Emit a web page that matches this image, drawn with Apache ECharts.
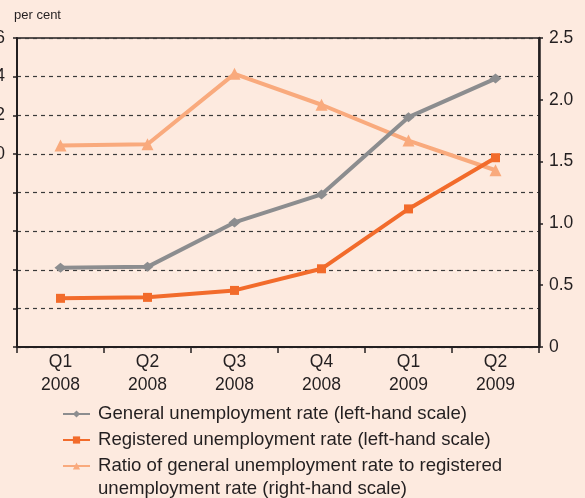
<!DOCTYPE html>
<html><head><meta charset="utf-8">
<script src="https://cdn.jsdelivr.net/npm/echarts@6/dist/echarts.min.js"></script>
<style>html,body{margin:0;padding:0;background:#fdeadf}#c{width:585px;height:498px}</style>
</head><body><div id="c"></div>
<script>
var categories = ['Q1\n2008','Q2\n2008','Q3\n2008','Q4\n2008','Q1\n2009','Q2\n2009'];
var generalRate = [4.1, 4.15, 6.45, 7.9, 11.9, 13.9];
var registeredRate = [2.52, 2.57, 2.93, 4.05, 7.15, 9.8];
var ratioRate = [1.63, 1.64, 2.21, 1.96, 1.67, 1.43];
var leftTicks = [0, 16, 2];
var rightTicks = [0, 2.5, 0.5];
var names = ['General unemployment rate (left-hand scale)','Registered unemployment rate (left-hand scale)','Ratio of general unemployment rate to registered'];
var nameLine2 = 'unemployment rate (right-hand scale)';

var ink = '#231f20';
var ff = 'Liberation Sans, Arial, sans-serif';
var chart = echarts.init(document.getElementById('c'));
chart.setOption({
  backgroundColor: '#fdeadf',
  animation: false,
  textStyle: {fontFamily: ff},
  grid: {left: 17, right: 46, top: 38, bottom: 151, containLabel: false, outerBoundsMode: 'none',
         show: true, borderColor: ink, borderWidth: 1.5, backgroundColor: 'transparent'},
  legend: {
    orient: 'vertical', left: 62, top: 403, itemGap: 4, itemWidth: 27, itemHeight: 9, padding: 0,
    data: names,
    textStyle: {fontSize: 18.6, lineHeight: 22, color: ink, fontFamily: ff, padding: [0,0,0,3]},
    selectedMode: false
  },
  graphic: [
    {type: 'text', left: 14, top: 9, style: {text: 'per cent', fontSize: 13, fill: ink, fontFamily: ff}},
    {type: 'text', left: 98, top: 479, style: {text: nameLine2, fontSize: 18.6, fill: ink, fontFamily: ff}}
  ],
  xAxis: {
    type: 'category', data: categories, boundaryGap: true,
    axisLine: {lineStyle: {color: ink, width: 2}},
    axisTick: {show: true, length: 6, lineStyle: {color: ink, width: 1.5}},
    axisLabel: {fontSize: 17.5, color: ink, lineHeight: 23.5, margin: 3}
  },
  yAxis: [
    {type: 'value', min: leftTicks[0], max: leftTicks[1], interval: leftTicks[2], position: 'left',
     axisLine: {show: true, lineStyle: {color: ink, width: 2}},
     axisTick: {show: true, length: 4, lineStyle: {color: ink, width: 1.5}},
     axisLabel: {fontSize: 17.5, color: ink, margin: 12, formatter: function(v){return v >= 10 ? String(v) : '';}},
     splitLine: {show: true, lineStyle: {color: '#3a3a3a', type: [4, 4], width: 1.2}}
    },
    {type: 'value', min: rightTicks[0], max: rightTicks[1], interval: rightTicks[2], position: 'right',
     axisLine: {show: true, lineStyle: {color: ink, width: 2.5}},
     axisTick: {show: true, inside: false, length: 4, lineStyle: {color: ink, width: 1.5}},
     axisLabel: {fontSize: 17.5, color: ink, margin: 10, formatter: function(v){return v === 0 ? '0' : v.toFixed(1);}},
     splitLine: {show: false}
    }
  ],
  series: [
    {name: names[0], type: 'line', data: generalRate, yAxisIndex: 0, z: 5,
     symbol: 'diamond', symbolSize: [12, 10], color: '#8c8d8f',
     lineStyle: {width: 4, color: '#8c8d8f'}, itemStyle: {color: '#8c8d8f'}},
    {name: names[1], type: 'line', data: registeredRate, yAxisIndex: 0, z: 4,
     symbol: 'rect', symbolSize: 9, color: '#f26b2b',
     lineStyle: {width: 4, color: '#f26b2b'}, itemStyle: {color: '#f26b2b'}},
    {name: names[2], type: 'line', data: ratioRate, yAxisIndex: 1, z: 3,
     symbol: 'triangle', symbolSize: 12, color: '#f9aa7d',
     lineStyle: {width: 4, color: '#f9aa7d'}, itemStyle: {color: '#f9aa7d'}}
  ]
});
</script></body></html>
